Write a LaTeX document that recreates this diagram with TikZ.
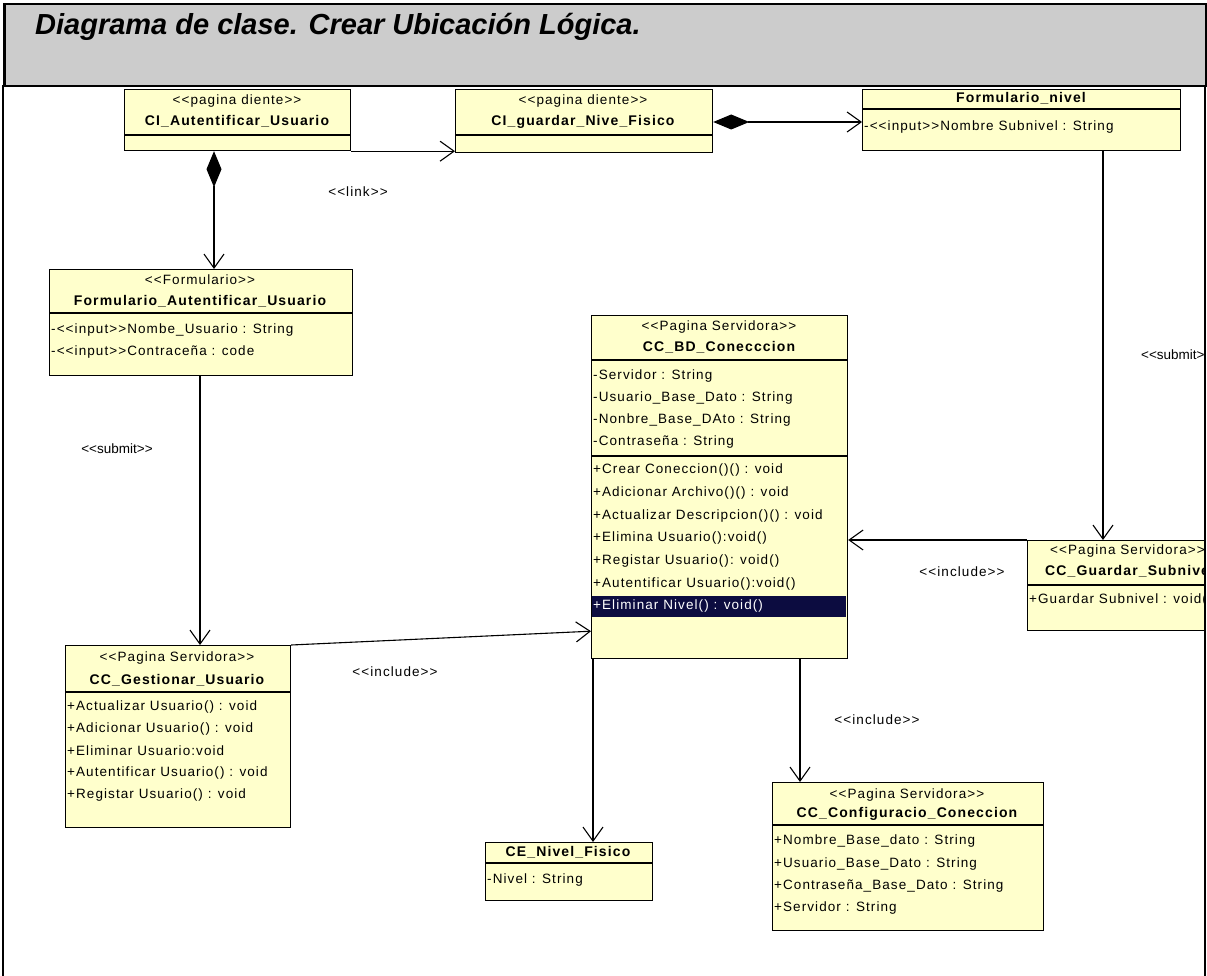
\documentclass[tikz,border=0pt]{standalone}
\usepackage{fontspec}
\setmainfont{Liberation Sans}[Ligatures=TeXOff]
\newfontfamily\umlfont{Liberation Sans}[LetterSpace=8,Ligatures=TeXOff]
\usetikzlibrary{arrows.meta}
\definecolor{clsfill}{RGB}{255,255,204}
\definecolor{hdrgray}{RGB}{204,204,204}
\definecolor{selrow}{RGB}{12,12,64}
\tikzset{
  cls/.style={draw=black, fill=clsfill, line width=1.2pt, inner sep=0pt, anchor=north west},
  sepline/.style={line width=1.1pt},
  ster/.style={font=\umlfont\fontsize{13.5}{15}\selectfont, inner sep=0pt, text height=9.5pt, text depth=2.5pt},
  cname/.style={font=\umlfont\fontsize{14}{16}\selectfont\bfseries, inner sep=0pt, text height=9.5pt, text depth=2.5pt},
  member/.style={font=\umlfont\fontsize{13.5}{15}\selectfont, inner sep=0pt, anchor=west, text height=9.5pt, text depth=2.5pt},
  lbl/.style={font=\umlfont\fontsize{13.5}{15}\selectfont, inner sep=0pt},
  sublbl/.style={font=\fontsize{13.5}{15}\selectfont, inner sep=0pt},
  assoc/.style={line width=1.1pt, -{Straight Barb[length=14pt,width=20pt]}},
  comp/.style={line width=1.1pt, {Diamond[length=36pt,width=15pt]}-{Straight Barb[length=14pt,width=20pt]}},
}
\begin{document}
\begin{tikzpicture}[x=1pt,y=1pt]
\useasboundingbox (0,0) rectangle (1207,-976);

% header band with title
\node[draw=black, fill=hdrgray, line width=2.5pt, anchor=north west, minimum width=1202pt, minimum height=82pt, inner sep=0pt] (hdr) at (3,-3) {};
\node[font=\fontsize{29}{31}\selectfont\bfseries\itshape, anchor=base west, inner sep=0pt] (title) at (35,-35) {Diagrama de clase. Crear Ubicación Lógica.};

\begin{scope}
\clip (3,-86) rectangle (1204,-976);

% CI_Autentificar_Usuario
\node[cls, minimum width=226pt, minimum height=61pt] (ciaut) at (124,-89) {};
\draw[sepline] (124,-135) -- (350,-135);
\node[ster] at (237,-101) {<<pagina diente>>};
\node[cname] at (237,-122) {CI\_Autentificar\_Usuario};

% CI_guardar_Nive_Fisico
\node[cls, minimum width=257pt, minimum height=63pt] (cigrd) at (455,-89) {};
\draw[sepline] (455,-135) -- (712,-135);
\node[ster] at (583,-101) {<<pagina diente>>};
\node[cname] at (583,-122) {CI\_guardar\_Nive\_Fisico};

% Formulario_nivel
\node[cls, minimum width=318pt, minimum height=61pt] (fnivel) at (862,-89) {};
\draw[sepline] (862,-109) -- (1180,-109);
\node[cname] at (1021,-99) {Formulario\_nivel};
\node[member] at (864,-127) {-<<input>>Nombre Subnivel : String};

% Formulario_Autentificar_Usuario
\node[cls, minimum width=303pt, minimum height=106pt] (faut) at (49,-269) {};
\draw[sepline] (49,-313) -- (352,-313);
\node[ster] at (200,-281) {<<Formulario>>};
\node[cname] at (200,-302) {Formulario\_Autentificar\_Usuario};
\node[member] at (51,-330) {-<<input>>Nombe\_Usuario : String};
\node[member] at (51,-352) {-<<input>>Contraceña : code};

% CC_BD_Conecccion
\node[cls, minimum width=256pt, minimum height=343pt] (ccbd) at (591,-315) {};
\draw[sepline] (591,-360) -- (847,-360);
\draw[sepline] (591,-456) -- (847,-456);
\fill[selrow] (592,-596) rectangle (846,-617);
\node[ster] at (719,-327) {<<Pagina Servidora>>};
\node[cname] at (719,-348) {CC\_BD\_Conecccion};
\node[member] at (593,-376) {-Servidor : String};
\node[member] at (593,-398) {-Usuario\_Base\_Dato : String};
\node[member] at (593,-420) {-Nonbre\_Base\_DAto : String};
\node[member] at (593,-442) {-Contraseña : String};
\node[member] at (593,-470) {+Crear Coneccion()() : void};
\node[member] at (593,-493) {+Adicionar Archivo()() : void};
\node[member] at (593,-516) {+Actualizar Descripcion()() : void};
\node[member] at (593,-538) {+Elimina Usuario():void()};
\node[member] at (593,-561) {+Registar Usuario(): void()};
\node[member] at (593,-584) {+Autentificar Usuario():void()};
\node[member, text=white] at (593,-606) {+Eliminar Nivel() : void()};

% CC_Guardar_Subnivel (runs past the frame)
\node[cls, minimum width=220pt, minimum height=90pt] (ccgs) at (1027,-540) {};
\draw[sepline] (1027,-585) -- (1247,-585);
\node[ster, anchor=west] at (1050,-551) {<<Pagina Servidora>>};
\node[cname, anchor=west] at (1045,-572) {CC\_Guardar\_Subnivel};
\node[member] at (1029,-600) {+Guardar Subnivel : void()};

% CC_Gestionar_Usuario
\node[cls, minimum width=225pt, minimum height=182pt] (ccgu) at (65,-645) {};
\draw[sepline] (65,-692) -- (290,-692);
\node[ster] at (177,-658) {<<Pagina Servidora>>};
\node[cname] at (177,-681) {CC\_Gestionar\_Usuario};
\node[member] at (67,-707) {+Actualizar Usuario() : void};
\node[member] at (67,-729) {+Adicionar Usuario() : void};
\node[member] at (67,-752) {+Eliminar Usuario:void};
\node[member] at (67,-773) {+Autentificar Usuario() : void};
\node[member] at (67,-795) {+Registar Usuario() : void};

% CE_Nivel_Fisico
\node[cls, minimum width=167pt, minimum height=58pt] (cenf) at (485,-842) {};
\draw[sepline] (485,-863) -- (652,-863);
\node[cname] at (568,-853) {CE\_Nivel\_Fisico};
\node[member] at (487,-880) {-Nivel : String};

% CC_Configuracio_Coneccion
\node[cls, minimum width=271pt, minimum height=148pt] (cccc) at (772,-782) {};
\draw[sepline] (772,-825) -- (1043,-825);
\node[ster] at (907,-795) {<<Pagina Servidora>>};
\node[cname] at (907,-814) {CC\_Configuracio\_Coneccion};
\node[member] at (774,-841) {+Nombre\_Base\_dato : String};
\node[member] at (774,-864) {+Usuario\_Base\_Dato : String};
\node[member] at (774,-886) {+Contraseña\_Base\_Dato : String};
\node[member] at (774,-908) {+Servidor : String};

% relations
\draw[assoc] (ciaut.south east) -- (ciaut.south east -| cigrd.west);
\draw[comp] ([xshift=90pt]ciaut.south west) -- ([xshift=90pt]ciaut.south west |- faut.north);
\draw[comp] ([yshift=-33pt]cigrd.north east) -- ([yshift=-33pt]cigrd.north east -| fnivel.west);
\draw[assoc] ([xshift=241pt]fnivel.south west) -- ([xshift=241pt]fnivel.south west |- ccgs.north);
\draw[assoc] (ccgs.north west) -- (ccgs.north west -| ccbd.east);
\draw[assoc] ([xshift=151pt]faut.south west) -- ([xshift=151pt]faut.south west |- ccgu.north);
\draw[assoc] (ccgu.north east) -- ([yshift=28pt]ccbd.south west);
\draw[assoc] ([xshift=2pt]ccbd.south west) -- ([xshift=2pt]ccbd.south west |- cenf.north);
\draw[assoc] ([xshift=209pt]ccbd.south west) -- ([xshift=209pt]ccbd.south west |- cccc.north);

% stereotype labels on relations
\node[lbl] (llink) at (358,-192) {<<link>>};
\node[sublbl] (lsub1) at (117,-449) {<<submit>>};
\node[lbl] (linc1) at (395,-672) {<<include>>};
\node[sublbl, anchor=west] (lsub2) at (1141,-355) {<<submit>>};
\node[lbl] (linc2) at (962,-572) {<<include>>};
\node[lbl] (linc3) at (877,-720) {<<include>>};
\end{scope}

% outer frame sides
\draw[line width=2pt] (3,-85) -- (3,-976);
\draw[line width=2pt] (1205,-85) -- (1205,-976);
\end{tikzpicture}
\end{document}
